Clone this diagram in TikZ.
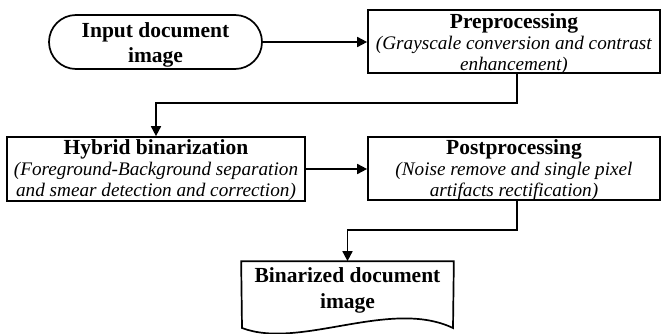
\documentclass[tikz,border=0pt]{standalone}
\usepackage{fontspec}
\setmainfont{Liberation Serif}
\usetikzlibrary{arrows.meta}
\begin{document}
\begin{tikzpicture}[x=1pt,y=-1pt,line width=1.7pt,
  box/.style={draw,rectangle,inner sep=0pt,line width=1.7pt},
  txt/.style={inner sep=0pt,align=center,font=\fontsize{19.2}{21}\selectfont},
  ttl/.style={inner sep=0pt,align=center,font=\fontsize{21.5}{25}\selectfont\bfseries},
  arr/.style={-{Triangle[length=10pt,width=10pt]},line width=1.7pt},
]
\useasboundingbox (0,0) rectangle (661,334);

\node[box,rounded corners=27pt,minimum width=213pt,minimum height=54pt] (in) at (155.5,42) {};
\node[ttl] (intxt) at ([yshift=-2.5pt]in.center) {Input document\\image};

\node[box,minimum width=292pt,minimum height=63pt] (pre) at (514,41.5) {};
\node[txt] (pretxt) at ([yshift=-3pt]pre.center)
  {{\fontsize{21.5}{21}\selectfont\bfseries Preprocessing}\\
   \textit{(Grayscale conversion and contrast}\\
   \textit{enhancement)}};

\node[box,minimum width=298pt,minimum height=64pt] (hyb) at (156,169) {};
\node[txt] (hybtxt) at ([yshift=-1.5pt]hyb.center)
  {{\fontsize{21.5}{21}\selectfont\bfseries Hybrid binarization}\\
   \textit{(Foreground-Background separation}\\
   \textit{and smear detection and correction)}};

\node[box,minimum width=292pt,minimum height=63pt] (post) at (514,168.5) {};
\node[txt] (posttxt) at ([yshift=-1.5pt]post.center)
  {{\fontsize{21.5}{21}\selectfont\bfseries Postprocessing}\\
   \textit{(Noise remove and single pixel}\\
   \textit{artifacts rectification)}};

\node[inner sep=0pt,minimum width=211pt,minimum height=56pt,align=center,
  font=\fontsize{21.5}{26}\selectfont\bfseries] (doc) at (347.5,290)
  {Binarized document\\image};
\draw (doc.north west) -- (doc.north east) -- (453,328)
  .. controls (390,298) and (300,350) .. (242,328) -- cycle;

\draw[arr] (in.east) -- (in.east -| pre.west);
\draw[arr] ([xshift=3pt]pre.south) -- ++(0,29) -| (hyb.north);
\draw[arr] (hyb.east) -- (hyb.east -| post.west);
\draw[arr] ([xshift=3pt]post.south) -- ++(0,29) -| (doc.north);
\end{tikzpicture}
\end{document}
